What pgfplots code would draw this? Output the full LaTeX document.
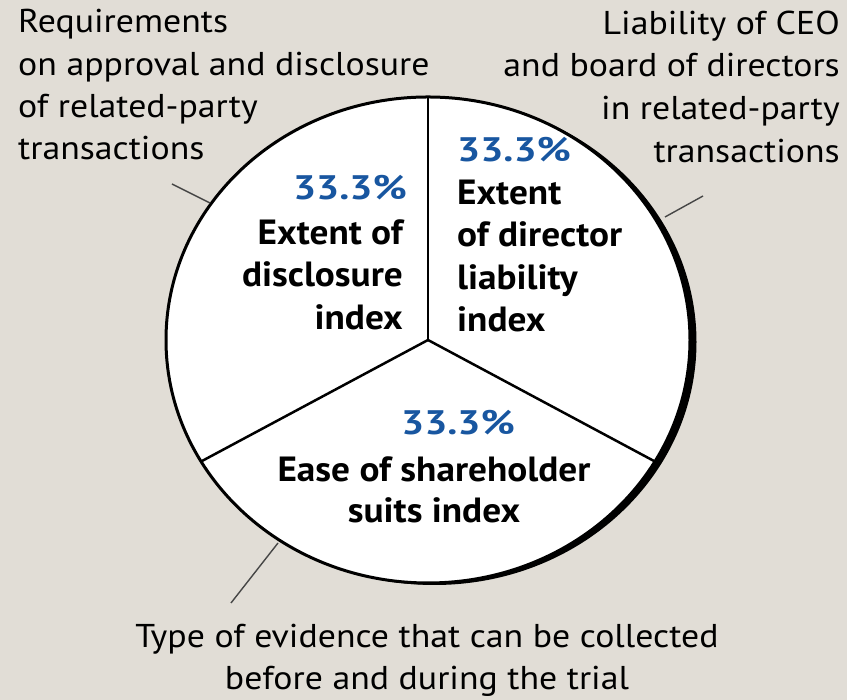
\documentclass[border=0pt]{standalone}
\usepackage{pgfplots}
\pgfplotsset{compat=1.18}
\usepgfplotslibrary{polar}
\usepackage{fontspec}
\setmainfont{PT Sans}
\newfontfamily\labfont{PT Sans}[FakeStretch=1.085]
\newfontfamily\slicefont{PT Sans}[FakeStretch=1.065]
\newfontfamily\pctfont{PT Sans}[FakeStretch=1.2]
\definecolor{bg}{RGB}{225,221,214}
\definecolor{pctblue}{RGB}{24,86,160}
\definecolor{leader}{RGB}{70,70,70}

\newcommand{\lab}{\labfont\fontsize{33}{42}\selectfont}
\newcommand{\blab}{\slicefont\fontsize{35}{42}\selectfont\bfseries}
\newcommand{\plab}{\pctfont\fontsize{34}{42}\selectfont\bfseries}

\begin{document}
\begin{tikzpicture}
\useasboundingbox (0pt,0pt) rectangle (847pt,700pt);
\fill[bg] (0pt,0pt) rectangle (847pt,700pt);

% pie: three equal shares, separators at 90, -30 and -150 degrees
\begin{axis}[
    at={(428pt,360pt)}, anchor=center,
    scale only axis,
    width=524pt, height=486pt,
    xmin=-1, xmax=1, ymin=-1, ymax=1,
    hide axis, clip=false,
]
\fill[black] ([xshift=6.5pt,yshift=-2pt]axis cs:0,0) ellipse [x radius=1, y radius=1];
\draw[fill=white, line width=3pt] (axis cs:0,0) ellipse [x radius=1, y radius=1];
\addplot[data cs=polar, line width=2.5pt, black, no marks] coordinates {(90,0) (90,1)};
\addplot[data cs=polar, line width=2.5pt, black, no marks] coordinates {(-30,0) (-30,1)};
\addplot[data cs=polar, line width=2.5pt, black, no marks] coordinates {(-150,0) (-150,1)};
\end{axis}

% leader lines
\draw[leader, line width=1.4pt] (172pt,516pt) -- (210pt,497pt);
\draw[leader, line width=1.4pt] (665pt,483pt) -- (703pt,504pt);
\draw[leader, line width=1.4pt] (278pt,157pt) -- (231pt,97pt);

% outer labels
\node[anchor=base west, inner sep=0pt] at (18pt,667pt) {\lab Requirements};
\node[anchor=base west, inner sep=0pt] at (18pt,624pt) {\lab on approval and disclosure};
\node[anchor=base west, inner sep=0pt] at (18pt,582pt) {\lab of related-party};
\node[anchor=base west, inner sep=0pt] at (18pt,540pt) {\lab transactions};

\node[anchor=base east, inner sep=0pt] at (840pt,665pt) {\lab Liability of CEO\hspace{0.3em}};
\node[anchor=base east, inner sep=0pt] at (840pt,623pt) {\lab and board of directors};
\node[anchor=base east, inner sep=0pt] at (840pt,580pt) {\lab in related-party};
\node[anchor=base east, inner sep=0pt] at (840pt,537pt) {\lab transactions};

\node[anchor=base, inner sep=0pt] at (427pt,52pt) {\lab Type of evidence that can be collected};
\node[anchor=base, inner sep=0pt] at (427pt,10pt) {\lab before and during the trial};

% slice labels
\node[anchor=base east, inner sep=0pt, pctblue] at (407pt,500pt) {\plab 33.3\%};
\node[anchor=base east, inner sep=0pt] at (403pt,455pt) {\blab Extent of};
\node[anchor=base east, inner sep=0pt] at (403pt,413pt) {\blab disclosure};
\node[anchor=base east, inner sep=0pt] at (403pt,370pt) {\blab index};

\node[anchor=base west, inner sep=0pt, pctblue] at (457pt,538pt) {\plab 33.3\%};
\node[anchor=base west, inner sep=0pt] at (457pt,495pt) {\blab Extent};
\node[anchor=base west, inner sep=0pt] at (457pt,453pt) {\blab of director};
\node[anchor=base west, inner sep=0pt] at (457pt,410pt) {\blab liability};
\node[anchor=base west, inner sep=0pt] at (457pt,368pt) {\blab index};

\node[anchor=base, inner sep=0pt, pctblue] at (458pt,265pt) {\plab 33.3\%};
\node[anchor=base, inner sep=0pt] at (434pt,218pt) {\blab Ease of shareholder};
\node[anchor=base, inner sep=0pt] at (434pt,177pt) {\blab suits index};
\end{tikzpicture}
\end{document}
